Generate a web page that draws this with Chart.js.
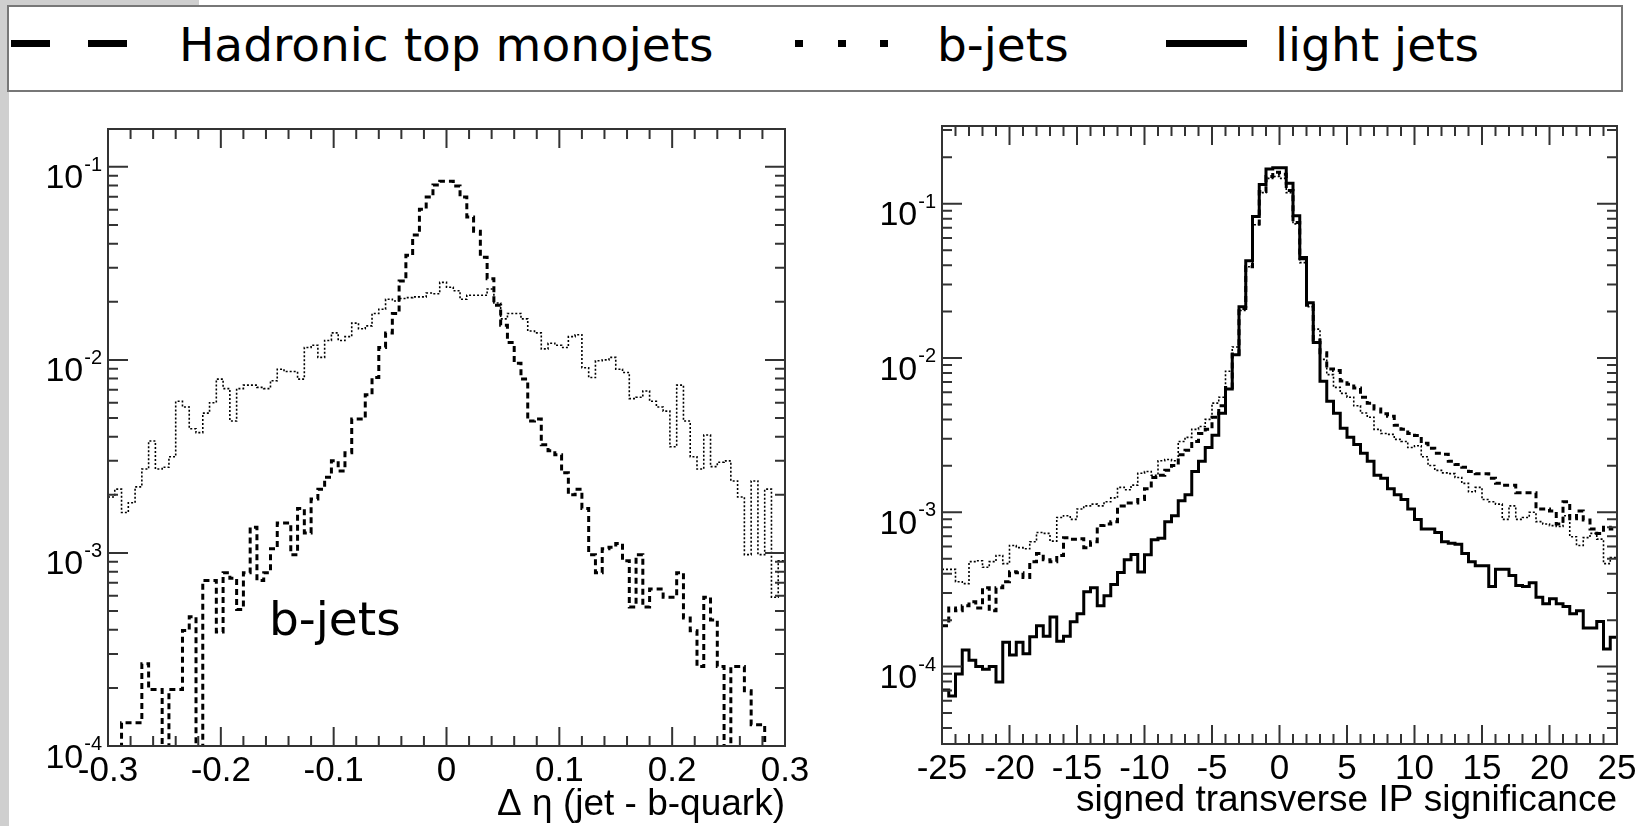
<!DOCTYPE html>
<html>
<head>
<meta charset="utf-8">
<script src="https://cdn.jsdelivr.net/npm/chart.js@4.4.1/dist/chart.umd.min.js"></script>
<style>
html, body { margin: 0; padding: 0; background: #fff; width: 1636px; height: 826px; overflow: hidden; }
canvas { position: absolute; left: 0; top: 0; }
.gray-top { position: absolute; left: 0; top: 0; width: 199px; height: 6px; background: #cfcfcf; }
.gray-left { position: absolute; left: 0; top: 0; width: 9px; height: 826px; background: #cfcfcf; }
#legendBox { position: absolute; left: 7px; top: 5px; width: 1616px; height: 87px; box-sizing: border-box;
  border: 2px solid #777; background: #fff; }
.sym { position: absolute; background: #000; }
.ltext { position: absolute; font-family: "DejaVu Sans"; font-size: 47px; line-height: 47px; color: #000; white-space: nowrap; }
</style>
</head>
<body>
<div class="gray-top"></div>
<div class="gray-left"></div>
<div id="legendBox"></div>
<!-- legend symbols -->
<div class="sym" style="left:11px; top:40px; width:39px; height:7px"></div>
<div class="sym" style="left:88px; top:40px; width:39px; height:7px"></div>
<div class="sym" style="left:795px; top:40px; width:8px; height:7px"></div>
<div class="sym" style="left:838px; top:40px; width:8px; height:7px"></div>
<div class="sym" style="left:880px; top:40px; width:8px; height:7px"></div>
<div class="sym" style="left:1166px; top:40px; width:81px; height:7px"></div>
<div class="ltext" style="left:179px; top:21px">Hadronic top monojets</div>
<div class="ltext" style="left:937px; top:21px">b-jets</div>
<div class="ltext" style="left:1275px; top:21px">light jets</div>

<canvas id="leftPlot" width="1636" height="826"></canvas>
<canvas id="rightPlot" width="1636" height="826"></canvas>
<div class="ltext" style="left:269px; top:595px">b-jets</div>

<script>
// ---- left panel: delta eta (jet - b-quark), 100 bins from -0.3 to 0.3
const leftRange = [-0.3, 0.3];
const leftTopMono = [
  0, 0, 1.32e-4, 1.32e-4, 1.32e-4, 2.67e-4, 1.96e-4, 1.96e-4, 0, 1.96e-4,
  1.96e-4, 3.97e-4, 4.67e-4, 0, 7.2e-4, 7.2e-4, 3.9e-4, 7.9e-4, 7.4e-4, 5.1e-4,
  7.9e-4, 1.36e-3, 7.2e-4, 7.9e-4, 1.05e-3, 1.43e-3, 1.43e-3, 9.8e-4, 1.7e-3, 1.27e-3,
  1.9e-3, 2.14e-3, 2.47e-3, 3.0e-3, 2.66e-3, 3.3e-3, 4.94e-3, 4.94e-3, 6.6e-3, 8.1e-3,
  1.16e-2, 1.38e-2, 1.74e-2, 2.56e-2, 3.48e-2, 4.43e-2, 6.03e-2, 6.97e-2, 8.04e-2, 8.42e-2,
  8.42e-2, 7.96e-2, 6.97e-2, 5.5e-2, 4.64e-2, 3.4e-2, 2.63e-2, 1.92e-2, 1.51e-2, 1.23e-2,
  9.6e-3, 7.95e-3, 4.82e-3, 4.94e-3, 3.63e-3, 3.38e-3, 3.23e-3, 2.6e-3, 2.0e-3, 2.14e-3,
  1.7e-3, 9.8e-4, 7.9e-4, 1.05e-3, 1.07e-3, 1.12e-3, 9.1e-4, 5.25e-4, 9.8e-4, 5.25e-4,
  6.5e-4, 6.5e-4, 5.9e-4, 5.9e-4, 7.9e-4, 4.6e-4, 3.95e-4, 2.58e-4, 5.9e-4, 4.5e-4,
  2.58e-4, 0, 2.58e-4, 2.58e-4, 1.93e-4, 1.29e-4, 1.29e-4, 0, 0, 0
];
const leftBJets = [
  1.95e-3, 2.14e-3, 1.62e-3, 1.82e-3, 2.2e-3, 2.72e-3, 3.8e-3, 2.72e-3, 2.78e-3, 3.15e-3,
  6.1e-3, 5.7e-3, 4.4e-3, 4.2e-3, 5.3e-3, 6.0e-3, 7.95e-3, 7.1e-3, 4.82e-3, 7.1e-3,
  7.4e-3, 7.4e-3, 7.2e-3, 7.1e-3, 7.8e-3, 8.95e-3, 8.7e-3, 8.7e-3, 7.95e-3, 1.16e-2,
  1.19e-2, 1.03e-2, 1.26e-2, 1.38e-2, 1.26e-2, 1.32e-2, 1.55e-2, 1.45e-2, 1.5e-2, 1.74e-2,
  1.83e-2, 2.06e-2, 2.02e-2, 2.08e-2, 2.1e-2, 2.12e-2, 2.12e-2, 2.22e-2, 2.2e-2, 2.52e-2,
  2.38e-2, 2.28e-2, 2.06e-2, 2.16e-2, 2.16e-2, 2.16e-2, 2.33e-2, 1.97e-2, 1.63e-2, 1.74e-2,
  1.74e-2, 1.63e-2, 1.41e-2, 1.38e-2, 1.14e-2, 1.22e-2, 1.19e-2, 1.16e-2, 1.32e-2, 1.35e-2,
  9.1e-3, 8.1e-3, 9.9e-3, 1.0e-2, 1.03e-2, 8.95e-3, 8.6e-3, 6.3e-3, 6.4e-3, 6.9e-3,
  6.1e-3, 5.7e-3, 5.43e-3, 3.55e-3, 7.4e-3, 4.82e-3, 3.15e-3, 2.72e-3, 4.08e-3, 2.8e-3,
  2.95e-3, 3.0e-3, 2.36e-3, 1.95e-3, 9.8e-4, 2.36e-3, 9.8e-4, 2.14e-3, 5.9e-4, 9.1e-4
];
const leftXTicks = [-0.3, -0.2, -0.1, 0, 0.1, 0.2, 0.3];
const leftXLabels = ['-0.3', '-0.2', '-0.1', '0', '0.1', '0.2', '0.3'];
const leftYDecades = [-1, -2, -3, -4];

// ---- right panel: signed transverse IP significance, 100 bins from -25 to 25
const rightRange = [-25, 25];
const rightLight = [
  7.05e-5, 6.45e-5, 8.95e-5, 1.28e-4, 1.1e-4, 1.0e-4, 9.6e-5, 1.0e-4, 7.95e-5, 1.44e-4,
  1.19e-4, 1.44e-4, 1.21e-4, 1.56e-4, 1.84e-4, 1.57e-4, 2.1e-4, 1.46e-4, 1.57e-4, 1.95e-4,
  2.2e-4, 3.05e-4, 3.24e-4, 2.48e-4, 2.88e-4, 3.4e-4, 4.07e-4, 4.93e-4, 5.33e-4, 4.1e-4,
  5.3e-4, 6.65e-4, 6.8e-4, 8.7e-4, 9.5e-4, 1.19e-3, 1.3e-3, 1.84e-3, 2.14e-3, 2.63e-3,
  3.16e-3, 4.39e-3, 6.3e-3, 1.05e-2, 2.15e-2, 4.27e-2, 8.26e-2, 0.133, 0.168, 0.171,
  0.171, 0.136, 0.0836, 0.0449, 0.0228, 0.0126, 7.08e-3, 5.25e-3, 4.39e-3, 3.5e-3,
  3.06e-3, 2.75e-3, 2.41e-3, 2.14e-3, 1.74e-3, 1.66e-3, 1.42e-3, 1.3e-3, 1.21e-3, 1.05e-3,
  8.97e-4, 7.8e-4, 7.8e-4, 7.4e-4, 6.45e-4, 6.3e-4, 6.2e-4, 5.4e-4, 4.79e-4, 4.5e-4,
  4.5e-4, 3.31e-4, 4.27e-4, 4.27e-4, 3.9e-4, 3.35e-4, 3.31e-4, 3.5e-4, 2.82e-4, 2.55e-4,
  2.75e-4, 2.55e-4, 2.45e-4, 2.2e-4, 2.3e-4, 1.78e-4, 1.78e-4, 1.96e-4, 1.3e-4, 1.55e-4
];
const rightTopMono = [
  1.84e-4, 2.4e-4, 2.3e-4, 2.48e-4, 2.63e-4, 2.4e-4, 3.24e-4, 2.3e-4, 3.24e-4, 3.55e-4,
  4.12e-4, 4.05e-4, 3.78e-4, 4.79e-4, 5.4e-4, 4.93e-4, 4.79e-4, 5.25e-4, 6.85e-4, 6.7e-4,
  6.75e-4, 5.9e-4, 6.45e-4, 8.2e-4, 8.4e-4, 8.7e-4, 1.1e-3, 1.15e-3, 1.15e-3, 1.21e-3,
  1.42e-3, 1.68e-3, 1.74e-3, 1.87e-3, 2.01e-3, 2.36e-3, 2.52e-3, 2.88e-3, 3.24e-3, 3.45e-3,
  4.13e-3, 4.9e-3, 6.45e-3, 1.06e-2, 2.09e-2, 3.9e-2, 7.4e-2, 0.12, 0.15, 0.16,
  0.155, 0.122, 0.0755, 0.044, 0.022, 0.0131, 0.0108, 8.5e-3, 8.3e-3, 7.1e-3,
  6.76e-3, 6.4e-3, 5.57e-3, 5.1e-3, 4.68e-3, 4.35e-3, 4.2e-3, 3.66e-3, 3.45e-3, 3.24e-3,
  3.15e-3, 2.8e-3, 2.6e-3, 2.41e-3, 2.38e-3, 2.14e-3, 2.04e-3, 1.96e-3, 1.84e-3, 1.78e-3,
  1.78e-3, 1.66e-3, 1.54e-3, 1.5e-3, 1.5e-3, 1.34e-3, 1.34e-3, 1.34e-3, 1.05e-3, 1.05e-3,
  1.02e-3, 8.4e-4, 1.17e-3, 9.1e-4, 1.02e-3, 8.9e-4, 7.8e-4, 7.3e-4, 8.0e-4, 7.8e-4
];
const rightBJets = [
  4.27e-4, 4.27e-4, 3.55e-4, 3.45e-4, 4.79e-4, 4.85e-4, 4.4e-4, 4.79e-4, 5.25e-4, 4.65e-4,
  6.1e-4, 5.9e-4, 5.8e-4, 6.45e-4, 7.4e-4, 7.3e-4, 6.5e-4, 9.25e-4, 9.5e-4, 9.0e-4,
  1.05e-3, 1.1e-3, 1.13e-3, 1.1e-3, 1.17e-3, 1.24e-3, 1.45e-3, 1.4e-3, 1.5e-3, 1.79e-3,
  1.84e-3, 1.74e-3, 2.16e-3, 2.2e-3, 2.16e-3, 2.88e-3, 3.06e-3, 3.45e-3, 3.6e-3, 4.0e-3,
  5.1e-3, 5.57e-3, 8.2e-3, 1.18e-2, 2.03e-2, 3.9e-2, 7.3e-2, 0.118, 0.146, 0.15,
  0.146, 0.118, 0.074, 0.0415, 0.0215, 0.0154, 9.8e-3, 7.8e-3, 6.45e-3, 5.9e-3,
  5.57e-3, 4.9e-3, 4.4e-3, 4.13e-3, 3.45e-3, 3.24e-3, 3.2e-3, 2.97e-3, 2.88e-3, 2.63e-3,
  2.7e-3, 2.29e-3, 2.01e-3, 1.87e-3, 1.8e-3, 1.78e-3, 1.68e-3, 1.54e-3, 1.36e-3, 1.45e-3,
  1.21e-3, 1.17e-3, 1.13e-3, 9.0e-4, 1.1e-3, 9.0e-4, 9.25e-4, 1.0e-3, 8.7e-4, 8.4e-4,
  8.2e-4, 8.1e-4, 9.5e-4, 6.95e-4, 6.1e-4, 6.85e-4, 7.3e-4, 6.7e-4, 4.65e-4, 5.1e-4
];
const rightXTicks = [-25, -20, -15, -10, -5, 0, 5, 10, 15, 20, 25];
const rightXLabels = ['-25', '-20', '-15', '-10', '-5', '0', '5', '10', '15', '20', '25'];
const rightYDecades = [-1, -2, -3, -4];

// empty bins can't go on a log axis, park them far below the frame
const FLOOR = 1e-7;

function histPoints(range, values) {
  const w = (range[1] - range[0]) / values.length;
  const pts = values.map((v, i) => ({ x: range[0] + i * w, y: v > 0 ? v : FLOOR }));
  pts.push({ x: range[1], y: pts[pts.length - 1].y });
  return pts;
}

function histSet(label, range, values, width, dash) {
  return {
    label: label,
    data: histPoints(range, values),
    borderColor: '#000',
    borderWidth: width,
    borderDash: dash,
    borderJoinStyle: 'miter',
    stepped: true,
    pointRadius: 0,
    fill: false,
    clip: 0
  };
}

// ROOT style frame: box, inward ticks on all sides, labels, title
function framePlugin(cfg) {
  return {
    id: 'rootFrame',
    afterDraw(chart) {
      const { ctx, chartArea: a, scales: { x, y } } = chart;
      ctx.save();
      ctx.strokeStyle = '#333';
      ctx.lineWidth = 2;
      ctx.beginPath();
      // x ticks
      const n = Math.round((x.max - x.min) / cfg.xMinor);
      for (let k = 0; k <= n; k++) {
        const px = x.getPixelForValue(x.min + k * cfg.xMinor);
        const len = (k % cfg.xRatio === 0) ? 19 : 10;
        ctx.moveTo(px, a.bottom); ctx.lineTo(px, a.bottom - len);
        ctx.moveTo(px, a.top); ctx.lineTo(px, a.top + len);
      }
      // y ticks (log)
      const e0 = Math.floor(Math.log10(y.min)), e1 = Math.ceil(Math.log10(y.max));
      for (let e = e0; e <= e1; e++) {
        for (let m = 1; m <= 9; m++) {
          const v = m * Math.pow(10, e);
          if (v < y.min * 0.999 || v > y.max) continue;
          const py = y.getPixelForValue(v);
          const len = m === 1 ? 20 : 10;
          ctx.moveTo(a.left, py); ctx.lineTo(a.left + len, py);
          ctx.moveTo(a.right, py); ctx.lineTo(a.right - len, py);
        }
      }
      ctx.stroke();
      ctx.strokeRect(a.left, a.top, a.right - a.left, a.bottom - a.top);

      ctx.fillStyle = '#000';
      ctx.textBaseline = 'alphabetic';
      // x labels
      ctx.font = '35px "Liberation Sans"';
      ctx.textAlign = 'center';
      cfg.xTicks.forEach((v, i) => {
        ctx.fillText(cfg.xLabels[i], x.getPixelForValue(v), a.bottom + 34.5);
      });
      // y labels 10^n
      ctx.textAlign = 'right';
      cfg.yDecades.forEach(e => {
        const py = y.getPixelForValue(Math.pow(10, e));
        ctx.font = '20px "Liberation Sans"';
        const ex = String(e);
        const exRight = a.left - 6;
        ctx.fillText(ex, exRight, py + 4);
        const exW = ctx.measureText(ex).width;
        ctx.font = '34px "Liberation Sans"';
        ctx.fillText('10', exRight - exW - 1, py + 21.5);
      });
      // axis title
      ctx.font = '37px "Liberation Sans"';
      ctx.textAlign = 'right';
      ctx.fillText(cfg.title, a.right, a.bottom + cfg.titleOffset);
      ctx.restore();
    }
  };
}

function makeChart(id, datasets, xr, yr, padding, cfg) {
  return new Chart(document.getElementById(id), {
    type: 'line',
    data: { datasets: datasets },
    options: {
      responsive: false,
      animation: false,
      events: [],
      layout: { padding: padding },
      plugins: { legend: { display: false }, tooltip: { enabled: false } },
      scales: {
        x: { type: 'linear', min: xr[0], max: xr[1], display: false },
        y: { type: 'logarithmic', min: yr[0], max: yr[1], display: false }
      }
    },
    plugins: [framePlugin(cfg)]
  });
}

makeChart('leftPlot', [
    histSet('Hadronic top monojets', leftRange, leftTopMono, 3, [6, 4]),
    histSet('b-jets', leftRange, leftBJets, 1.6, [2, 2])
  ], leftRange, [1e-4, 0.157],
  { left: 108, top: 129, right: 851, bottom: 80 },
  { xMinor: 0.02, xRatio: 5, xTicks: leftXTicks, xLabels: leftXLabels,
    yDecades: leftYDecades, title: '\u0394 \u03b7 (jet - b-quark)', titleOffset: 69 });

makeChart('rightPlot', [
    histSet('light jets', rightRange, rightLight, 3, []),
    histSet('Hadronic top monojets', rightRange, rightTopMono, 3, [6, 4]),
    histSet('b-jets', rightRange, rightBJets, 1.6, [2, 2])
  ], rightRange, [3.15e-5, 0.319],
  { left: 942, top: 126, right: 19, bottom: 82 },
  { xMinor: 1, xRatio: 5, xTicks: rightXTicks, xLabels: rightXLabels,
    yDecades: rightYDecades, title: 'signed transverse IP significance', titleOffset: 67 });
</script>
</body>
</html>
